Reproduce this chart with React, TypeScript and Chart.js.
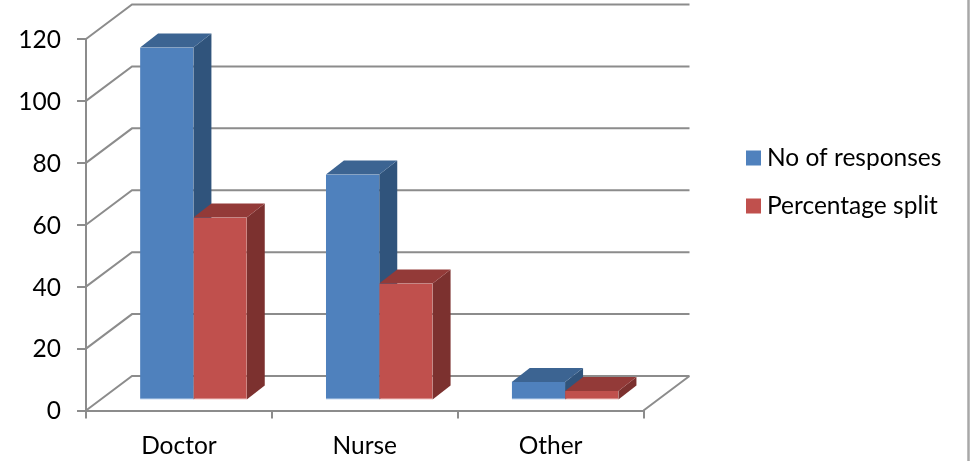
import React, { useEffect, useRef } from "react";
import { Chart, registerables } from "chart.js";

Chart.register(...registerables);

const categories = ["Doctor", "Nurse", "Other"];
const responses = [114, 73, 6];
const percentageSplit = [59.1, 37.8, 3.1];
const tickValues = [0, 20, 40, 60, 80, 100, 120];

const FONT = "Lato, Carlito, sans-serif";
const FONT_SIZE = 24.5;
const AXIS = "#8c8c8c";
const WALL_DX = 46;
const WALL_DY = -34.5;
const BAR_DX = 14.5;
const BAR_DY = -10;
const DEPTH_X = 18;
const DEPTH_Y = -14;

const shades = [
  { top: "#3c6492", side: "#30547c", edge: "#86aee0" },
  { top: "#933a38", side: "#7c312f", edge: "#e08a88" },
];

function poly(ctx: CanvasRenderingContext2D, pts: number[][], fill: string) {
  ctx.beginPath();
  pts.forEach(([x, y], i) => (i ? ctx.lineTo(x, y) : ctx.moveTo(x, y)));
  ctx.closePath();
  ctx.fillStyle = fill;
  ctx.fill();
}

const depthPlugin = {
  id: "depth",
  beforeDatasetsDraw(chart: any) {
    const { ctx, scales } = chart;
    const { x: xs, y: ys } = scales;
    const left = xs.left;
    const right = xs.right;
    ctx.save();
    ctx.strokeStyle = "#a8a8a8";
    ctx.lineWidth = 2.5;
    ctx.beginPath();
    ctx.moveTo(968.5, 0);
    ctx.lineTo(968.5, chart.height);
    ctx.stroke();
    ctx.strokeStyle = AXIS;
    ctx.lineWidth = 2;
    ctx.beginPath();
    tickValues.forEach((v) => {
      const y = ys.getPixelForValue(v);
      ctx.moveTo(left, y);
      ctx.lineTo(left + WALL_DX, y + WALL_DY);
      ctx.lineTo(right + WALL_DX, y + WALL_DY);
    });
    const y0 = ys.getPixelForValue(0);
    ctx.moveTo(right, y0);
    ctx.lineTo(right + WALL_DX, y0 + WALL_DY);
    ctx.stroke();

    chart.data.datasets.forEach((_: any, di: number) => {
      chart.getDatasetMeta(di).data.forEach((bar: any) => {
        const w = bar.width / 2;
        const l = bar.x - w + BAR_DX;
        const r = bar.x + w + BAR_DX;
        const t = bar.y + BAR_DY;
        const b = bar.base + BAR_DY;
        poly(ctx, [[r, t], [r + DEPTH_X, t + DEPTH_Y], [r + DEPTH_X, b + DEPTH_Y], [r, b]], shades[di].side);
        poly(ctx, [[l, t], [l + DEPTH_X, t + DEPTH_Y], [r + DEPTH_X, t + DEPTH_Y], [r, t]], shades[di].top);
      });
    });
    ctx.restore();
    ctx.save();
    ctx.translate(BAR_DX, BAR_DY);
  },
  afterDatasetsDraw(chart: any) {
    const { ctx } = chart;
    ctx.restore();
    ctx.save();
    ctx.font = `${FONT_SIZE}px ${FONT}`;
    ctx.textBaseline = "middle";
    chart.data.datasets.forEach((ds: any, i: number) => {
      const y = 158 + i * 48;
      ctx.fillStyle = ds.backgroundColor;
      ctx.fillRect(746, y - 7.5, 15, 15);
      ctx.fillStyle = "#000";
      ctx.fillText(ds.label, 767, y);
    });
    ctx.restore();
  },
};

const barStyle = {
  categoryPercentage: 0.574,
  barPercentage: 1,
  borderSkipped: false,
  borderWidth: { top: 0, left: 0, right: 0, bottom: 1 },
};

export default function App() {
  const ref = useRef<HTMLCanvasElement>(null);
  useEffect(() => {
    document.body.style.margin = "0";
    document.body.style.background = "#fff";
    const chart = new Chart(ref.current!, {
      type: "bar",
      data: {
        labels: categories,
        datasets: [
          { label: "No of responses", data: responses, backgroundColor: "#4f81bd", borderColor: shades[0].edge, ...barStyle },
          { label: "Percentage split", data: percentageSplit, backgroundColor: "#c0504d", borderColor: shades[1].edge, ...barStyle },
        ],
      },
      options: {
        responsive: false,
        animation: false,
        layout: { padding: { top: 39, right: 329.5, left: 0, bottom: 0 } },
        plugins: { legend: { display: false }, tooltip: { enabled: false }, title: { display: false } },
        scales: {
          x: {
            afterFit: (s: any) => { s.height = 50.5; },
            grid: { drawOnChartArea: false, color: AXIS, lineWidth: 2, tickLength: 8 },
            border: { color: AXIS, width: 2 },
            ticks: { color: "#000", font: { family: FONT, size: FONT_SIZE }, padding: 12.5, maxRotation: 0 },
          },
          y: {
            min: 0,
            max: 120,
            afterFit: (s: any) => { s.width = 86; },
            grid: { drawOnChartArea: false, color: AXIS, lineWidth: 2, tickLength: 9 },
            border: { color: AXIS, width: 2 },
            ticks: { stepSize: 20, color: "#000", font: { family: FONT, size: FONT_SIZE }, padding: 16, labelOffset: 1 },
          },
        },
      },
      plugins: [depthPlugin],
    });
    return () => chart.destroy();
  }, []);
  return <canvas ref={ref} width={973} height={461} style={{ position: "absolute", left: 0, top: 0, display: "block" }} />;
}
